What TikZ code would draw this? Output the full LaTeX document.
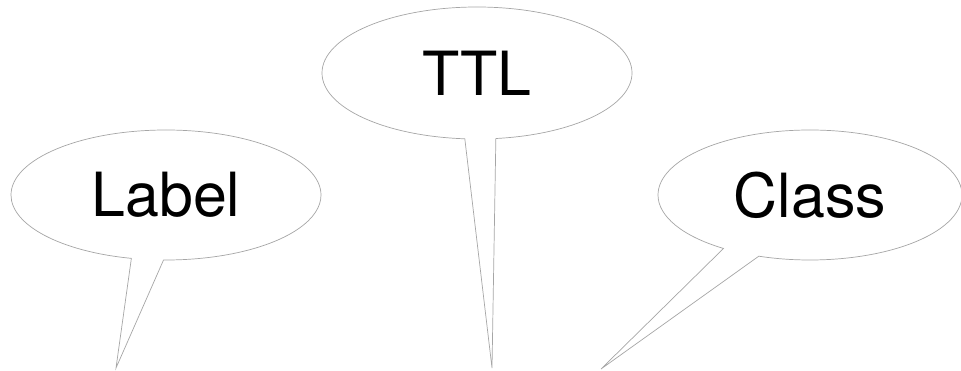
\documentclass[tikz,border=0pt]{standalone}
\usepackage{fontspec}
\setmainfont{TeX Gyre Heros}
\usepackage{tikz}
\usepackage{xcolor}
\usetikzlibrary{shapes.callouts,positioning}
\definecolor{bubbleline}{HTML}{A6A6A6}
\definecolor{ink}{HTML}{000000}
\tikzset{
  bubble/.style={ellipse callout,draw=bubbleline,fill=white,line width=0.6pt,
                 outer sep=0pt,inner sep=0pt,
                 minimum width=9.3cm,minimum height=3.9cm,
                 font=\fontsize{52}{60}\selectfont,text=ink}
}

\begin{document}
\begin{tikzpicture}[x=0.03cm,y=-0.03cm]
      \useasboundingbox (0,0) rectangle (961,371);

      % tips of the pointers
      \coordinate (labeltip) at (116,368);
      \coordinate (ttltip) at (492,368);
      \coordinate (classtip) at (601,369);

      % the three bubbles
      \node[bubble,callout absolute pointer=(labeltip),callout pointer arc=12]
        (label) at (166,195) {Label};
      \node[bubble,minimum height=3.96cm,callout absolute pointer=(ttltip),
        callout pointer arc=11.5] (ttl) at (477,73) {TTL};
      \node[bubble,minimum width=9.12cm,callout absolute pointer=(classtip),
        callout pointer arc=15] (class) at (810,195) {Class};
    \end{tikzpicture}
\end{document}
